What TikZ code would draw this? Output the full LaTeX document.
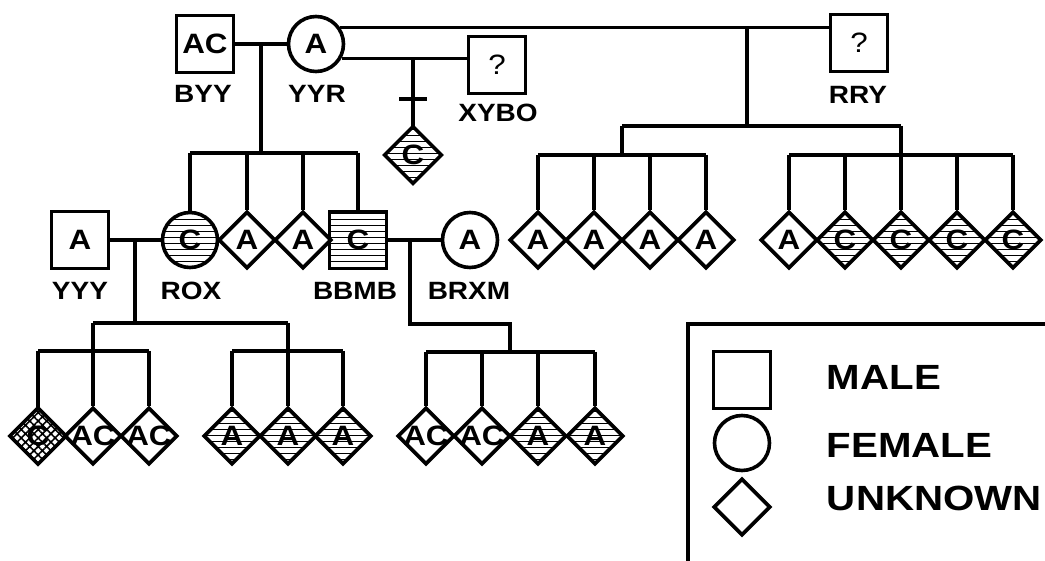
\documentclass[tikz,border=0pt]{standalone}
\usepackage{fontspec}
\newfontfamily\pedfont[FakeStretch=1.12]{Liberation Sans}
\newfontfamily\keyfont[FakeStretch=1.15]{Liberation Sans}
\usetikzlibrary{shapes.geometric,patterns.meta}

\begin{document}
\begin{tikzpicture}[x=1pt,y=-1pt,line width=3.2pt,
    person/.style={draw, line width=3.6pt, inner sep=0pt, font=\pedfont\bfseries\fontsize{28}{28}\selectfont},
    male/.style={person, rectangle, minimum width=57pt, minimum height=57pt},
    female/.style={person, circle, minimum size=55pt},
    unknown/.style={person, diamond, aspect=1, minimum size=57pt},
    plain/.style={},
    affected/.style={pattern={Lines[angle=0,distance=6pt,line width=0.9pt]}},
    compound/.style={pattern={Hatch[angle=45,distance=6pt,line width=1.6pt]}},
    idlabel/.style={font=\pedfont\bfseries\fontsize{25}{25}\selectfont},
    inlabel/.style={font=\pedfont\bfseries\fontsize{28}{28}\selectfont},
    qmark/.style={font=\pedfont\fontsize{28}{28}\selectfont},
    keytext/.style={anchor=base west, font=\keyfont\bfseries\fontsize{35}{35}\selectfont}]
    \useasboundingbox (0,0) rectangle (1045,561);

    % first generation
    \node[male] (byy) at (205,44) {AC};
    \node[female] (yyr) at (316,44) {A};
    \node[male, qmark] (xybo) at (497,65) {?};
    \node[male, qmark] (rry) at (859,43) {?};
    \node[idlabel] (byy-name) at (203,94) {BYY};
    \node[idlabel] (yyr-name) at (317,94) {YYR};
    \node[idlabel] (xybo-name) at (498,113) {XYBO};
    \node[idlabel] (rry-name) at (858,95) {RRY};

    \draw (byy) -- (yyr);
    \draw (yyr.34) -- (yyr.34 -| rry.west);
    \draw (yyr.-29) -- (yyr.-29 -| xybo.west);

    % child of YYR and XYBO
    \node[unknown, affected, label={[inlabel]center:C}] (xc) at (413,155) {};
    \draw (xc.north |- yyr.-29) -- (xc.north);
    \coordinate (tick) at (413,99);
    \draw ([xshift=-14pt]tick) -- ([xshift=14pt]tick);

    % children of YYR and RRY
    \coordinate (rrydrop) at (747,126);
    \coordinate (lgrp) at (622,155);
    \coordinate (rgrp) at (901,155);
    \draw (rrydrop |- yyr.34) -- (rrydrop);
    \draw (lgrp |- rrydrop) -- (rgrp |- rrydrop);
    \draw (lgrp |- rrydrop) -- (lgrp);
    \draw (rgrp |- rrydrop) -- (rgrp);
    \foreach \x [count=\i] in {538,594,650,706}
        \node[unknown, label={[inlabel]center:A}] (l\i) at (\x,240) {};
    \foreach \x/\t/\s [count=\i] in {789/A/plain,845/C/affected,901/C/affected,957/C/affected,1013/C/affected}
        \node[unknown, \s, label={[inlabel]center:\t}] (r\i) at (\x,240) {};
    \draw (l1.north |- lgrp) -- (l4.north |- lgrp);
    \draw (r1.north |- rgrp) -- (r5.north |- rgrp);
    \foreach \n in {l1,l2,l3,l4}
        \draw (\n.north |- lgrp) -- (\n.north);
    \foreach \n in {r1,r2,r3,r4,r5}
        \draw (\n.north |- rgrp) -- (\n.north);

    % second generation
    \node[male] (yyy) at (80,240) {A};
    \node[female, affected] (rox) at (190,240) {C};
    \node[unknown, label={[inlabel]center:A}] (ua) at (247,240) {};
    \node[unknown, label={[inlabel]center:A}] (ub) at (303,240) {};
    \node[male, affected] (bbmb) at (358,240) {C};
    \node[female] (brxm) at (470,240) {A};
    \node[idlabel] (yyy-name) at (80,291) {YYY};
    \node[idlabel] (rox-name) at (191,291) {ROX};
    \node[idlabel] (bbmb-name) at (355,291) {BBMB};
    \node[idlabel] (brxm-name) at (469,291) {BRXM};

    \coordinate (sib) at (261,153);
    \draw (sib |- byy) -- (sib);
    \draw (rox.north |- sib) -- (bbmb.north |- sib);
    \foreach \n in {rox,ua,ub,bbmb}
        \draw (\n.north |- sib) -- (\n.north);
    \draw (yyy) -- (rox);
    \draw (bbmb) -- (brxm);

    % third generation
    \foreach \x/\t/\s [count=\i] in {38/C/compound,93/AC/plain,149/AC/plain}
        \node[unknown, \s, label={[inlabel]center:\t}] (p\i) at (\x,436) {};
    \foreach \x [count=\i] in {232,288,343}
        \node[unknown, affected, label={[inlabel]center:A}] (q\i) at (\x,436) {};
    \foreach \x/\t/\s [count=\i] in {426/AC/plain,482/AC/plain,538/A/affected,595/A/affected}
        \node[unknown, \s, label={[inlabel]center:\t}] (s\i) at (\x,436) {};

    \coordinate (roxdrop) at (135,323);
    \coordinate (pgrp) at (93,351);
    \coordinate (qgrp) at (288,351);
    \draw (roxdrop |- yyy) -- (roxdrop);
    \draw (pgrp |- roxdrop) -- (qgrp |- roxdrop);
    \draw (pgrp |- roxdrop) -- (pgrp);
    \draw (qgrp |- roxdrop) -- (qgrp);
    \draw (p1.north |- pgrp) -- (p3.north |- pgrp);
    \draw (q1.north |- qgrp) -- (q3.north |- qgrp);

    \coordinate (bbmbdrop) at (410,324);
    \coordinate (sgrp) at (510,352);
    \draw (bbmbdrop |- bbmb) -- (bbmbdrop) -- (sgrp |- bbmbdrop) -- (sgrp);
    \draw (s1.north |- sgrp) -- (s4.north |- sgrp);

    \foreach \n in {p1,p2,p3}
        \draw (\n.north |- pgrp) -- (\n.north);
    \foreach \n in {q1,q2,q3}
        \draw (\n.north |- qgrp) -- (\n.north);
    \foreach \n in {s1,s2,s3,s4}
        \draw (\n.north |- sgrp) -- (\n.north);

    % legend
    \draw (688,561) -- (688,324) -- (1045,324);
    \node[male] (key-m) at (742,380) {};
    \node[female] (key-f) at (742,443) {};
    \node[unknown] (key-u) at (742,507) {};
    \node[keytext] (key-m-txt) at (822,390) {MALE};
    \node[keytext] (key-f-txt) at (822,457) {FEMALE};
    \node[keytext] (key-u-txt) at (822,510) {UNKNOWN};
\end{tikzpicture}
\end{document}
